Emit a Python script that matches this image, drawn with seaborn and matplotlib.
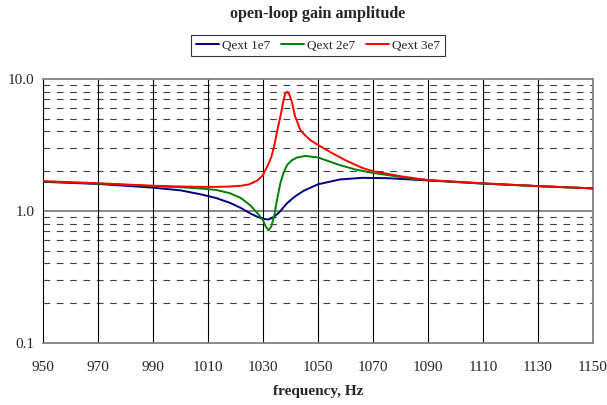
import numpy as np
import pandas as pd
import seaborn as sns
import matplotlib.pyplot as plt
from matplotlib.ticker import FixedLocator, NullFormatter

# frequency (Hz) and open-loop gain amplitude
freq_1e7 = [950, 970, 990, 1000, 1007, 1013, 1018, 1022, 1025.4, 1028, 1030, 1032,
            1034, 1036, 1038.7, 1041.5, 1044.8, 1050, 1058, 1066, 1075, 1083.6,
            1090, 1110, 1130, 1150]
gain_1e7 = [1.66, 1.60, 1.50, 1.43, 1.34, 1.25, 1.15, 1.05, 0.955, 0.90, 0.87, 0.86,
            0.90, 0.98, 1.14, 1.28, 1.42, 1.59, 1.73, 1.78, 1.77, 1.73,
            1.70, 1.61, 1.54, 1.48]

freq_2e7 = [950, 970, 990, 1000, 1007, 1013, 1018, 1022, 1025.4, 1028, 1030, 1031,
            1032, 1033, 1034, 1035, 1036.3, 1037.5, 1038.7, 1040.5, 1042.4, 1045.4,
            1050, 1058, 1064, 1070, 1083.6, 1090, 1110, 1130, 1150]
gain_2e7 = [1.67, 1.61, 1.54, 1.51, 1.48, 1.44, 1.36, 1.25, 1.10, 0.96, 0.85, 0.76,
            0.71, 0.76, 0.90, 1.18, 1.62, 1.95, 2.22, 2.42, 2.54, 2.61,
            2.54, 2.22, 2.05, 1.94, 1.76, 1.71, 1.61, 1.54, 1.48]

freq_3e7 = [950, 970, 990, 1000, 1007, 1013, 1018, 1022, 1025, 1028, 1030, 1031.5,
            1033, 1034, 1035, 1036.3, 1037.5, 1038.1, 1038.9, 1039.6, 1040.5, 1041.7,
            1043.6, 1045, 1047.2, 1050, 1055, 1060, 1066, 1070, 1080, 1090, 1110,
            1130, 1150]
gain_3e7 = [1.68, 1.62, 1.55, 1.53, 1.52, 1.52, 1.53, 1.55, 1.59, 1.70, 1.87, 2.16,
            2.55, 3.06, 3.88, 5.18, 6.94, 7.8, 8.0, 7.6, 6.7, 5.18,
            4.1, 3.8, 3.44, 3.16, 2.75, 2.42, 2.12, 2.00, 1.83, 1.71, 1.62,
            1.54, 1.48]

series_names = ["Qext 1e7", "Qext 2e7", "Qext 3e7"]
series_colors = ["#000080", "#008000", "#FF0000"]
x_ticks = list(range(950, 1151, 20))

df = pd.concat([
    pd.DataFrame({"freq": freq_1e7, "gain": gain_1e7, "series": series_names[0]}),
    pd.DataFrame({"freq": freq_2e7, "gain": gain_2e7, "series": series_names[1]}),
    pd.DataFrame({"freq": freq_3e7, "gain": gain_3e7, "series": series_names[2]}),
])

sns.set_style("white")
plt.rcParams['font.family'] = ['Liberation Serif', 'DejaVu Serif']

fig = plt.figure(figsize=(6.07, 4.05), dpi=100)
ax = fig.add_axes([43 / 607, 1 - 342.7 / 405, 550 / 607, (342.7 - 79) / 405])

# gridlines first, so curves sit on top
for v in [0.2, 0.3, 0.4, 0.5, 0.6, 0.7, 0.8, 0.9, 2, 3, 4, 5, 6, 7, 8, 9]:
    ax.axhline(v, color="#404040", lw=0.8, ls=(0, (6, 6)), zorder=1)
ax.axhline(1.0, color="#808080", lw=1.3, zorder=1)
for x in x_ticks[1:-1]:
    ax.axvline(x, color="black", lw=0.8, zorder=1)

sns.lineplot(data=df, x="freq", y="gain", hue="series", palette=series_colors,
             hue_order=series_names, linewidth=1.4, ax=ax, legend=False, zorder=3)

ax.set_yscale("log")
ax.set_ylim(0.1, 10)
ax.set_xlim(950, 1150)
ax.set_xticks(x_ticks)
ax.set_xticklabels([str(t) for t in x_ticks], fontsize=11)
ax.yaxis.set_major_locator(FixedLocator([0.1, 1, 10]))
ax.set_yticklabels(["0.1", "1.0", "10.0"], fontsize=11)
ax.yaxis.set_minor_formatter(NullFormatter())
ax.tick_params(axis="y", which="minor", length=0)
ax.tick_params(axis="both", which="major", length=4, width=0.8, color="black", pad=2, direction="out")
ax.tick_params(axis="x", length=3, pad=10)
ax.set_xlabel("frequency, Hz", fontsize=11, fontweight="bold", labelpad=8)
ax.set_ylabel("")

for side in ["top", "bottom", "right"]:
    ax.spines[side].set_color("#808080")
    ax.spines[side].set_linewidth(1.3)
ax.spines["left"].set_color("black")
ax.spines["left"].set_linewidth(0.8)

fig.text(318 / 607, 1 - 14 / 405, "open-loop gain amplitude", ha="center", va="center",
         fontsize=11.6, fontweight="bold")

handles = [plt.Line2D([], [], color=c, lw=1.4) for c in series_colors]
leg = fig.legend(handles, series_names, loc="center", bbox_to_anchor=(318 / 607, 1 - 45.5 / 405),
                 ncol=3, fontsize=9.5, frameon=True, fancybox=False, handlelength=1.75,
                 handletextpad=0.25, columnspacing=0.8, borderpad=0.35, borderaxespad=0)
leg.get_frame().set_edgecolor("black")
leg.get_frame().set_linewidth(0.8)

fig.savefig("out.png", dpi=100)
